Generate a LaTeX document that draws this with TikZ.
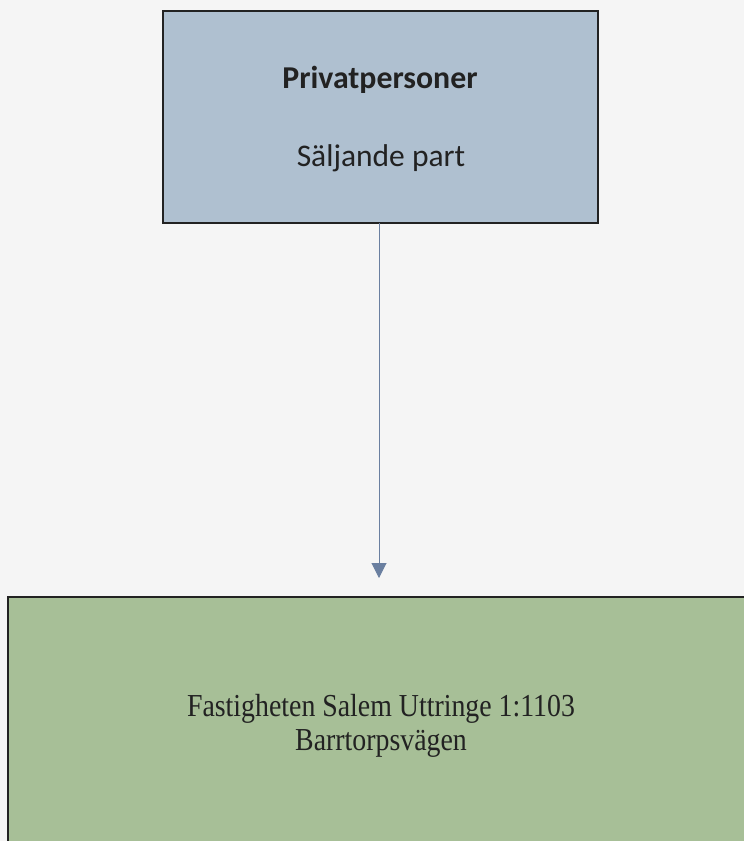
\documentclass[tikz,border=0pt]{standalone}
\usepackage{fontspec}
\setmainfont{Carlito}
\newfontfamily\serifcond[FakeStretch=0.87]{Liberation Serif}
\usetikzlibrary{arrows.meta}
\definecolor{bg}{HTML}{F5F5F5}
\definecolor{topfill}{HTML}{AFC0D0}
\definecolor{botfill}{HTML}{A7BF97}
\definecolor{arrowc}{HTML}{6A7FA0}
\definecolor{edge}{HTML}{222222}
\definecolor{txt}{HTML}{222222}
\tikzset{
  boxstyle/.style={draw=edge, line width=2.2pt, inner sep=0pt, outer sep=0pt},
  linkstyle/.style={draw=arrowc, line width=1pt, -{Triangle[width=15pt,length=15pt]}, shorten >=0pt}
}
\begin{document}
\begin{tikzpicture}[x=1pt,y=-1pt]
\fill[bg] (0,0) rectangle (744,841);
\useasboundingbox (0,0) rectangle (744,841);
\node[boxstyle, fill=topfill, minimum width=435pt, minimum height=212pt, anchor=north west] (top) at (163,11) {};
\begin{scope}
\clip (0,0) rectangle (744,841);
\node[boxstyle, fill=botfill, minimum width=760pt, minimum height=270pt, anchor=north west] (bot) at (8,597) {};
\end{scope}
\node[anchor=base, text=txt, font=\fontsize{31.8}{36}\selectfont\bfseries] (t1) at (380,88) {Privatpersoner};
\node[anchor=base, text=txt, font=\fontsize{31.5}{36}\selectfont] (t2) at (381,166) {Säljande part};
\node[anchor=base, text=txt, font=\serifcond\fontsize{32}{36}\selectfont] (b1) at (381,716) {Fastigheten Salem Uttringe 1:1103};
\node[anchor=base, text=txt, font=\serifcond\fontsize{32}{36}\selectfont] (b2) at (381,750) {Barrtorpsvägen};
\coordinate (tip) at (379,578);
\draw[linkstyle] (top.south -| tip) -- (tip);
\end{tikzpicture}
\end{document}
